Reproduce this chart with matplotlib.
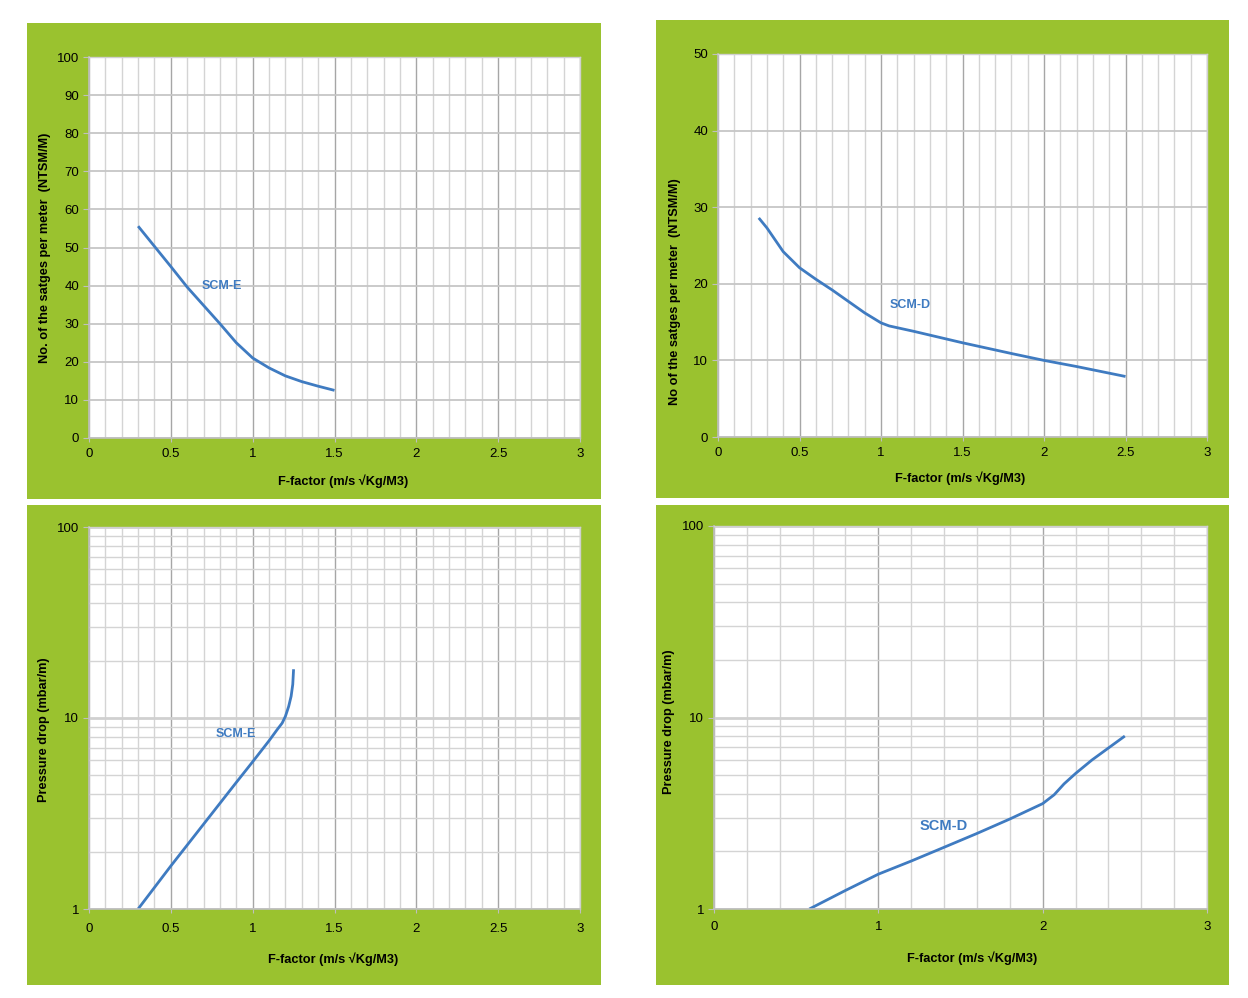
import matplotlib
matplotlib.use("Agg")
import matplotlib.pyplot as plt
from matplotlib.patches import Rectangle
from matplotlib.ticker import MultipleLocator, FixedLocator, FixedFormatter, NullFormatter

plt.rcParams['font.family'] = ['Liberation Sans', 'DejaVu Sans']

# ---------------- data ----------------
scme_stages_x = [0.3, 0.4, 0.5, 0.6, 0.7, 0.8, 0.9, 1.0, 1.1, 1.2, 1.3, 1.4, 1.5]
scme_stages_y = [55.6, 50.3, 45.0, 39.6, 34.8, 30.0, 25.0, 21.0, 18.4, 16.3, 14.8, 13.6, 12.5]

scmd_stages_x = [0.25, 0.3, 0.4, 0.5, 0.6, 0.7, 0.8, 0.9, 1.0, 1.05, 1.2, 1.5, 1.8, 2.0, 2.2, 2.5]
scmd_stages_y = [28.6, 27.3, 24.2, 22.1, 20.6, 19.2, 17.7, 16.2, 14.9, 14.5, 13.8, 12.3, 10.9, 10.0, 9.2, 7.9]

scme_dp_x = [0.3, 0.5, 0.7, 0.9, 1.0, 1.1, 1.15, 1.18, 1.2, 1.22, 1.235, 1.245, 1.25]
scme_dp_y = [1.0, 1.68, 2.78, 4.6, 5.9, 7.6, 8.7, 9.4, 10.2, 11.5, 13.0, 15.0, 18.0]

scmd_dp_x = [0.58, 0.8, 1.0, 1.2, 1.4, 1.6, 1.8, 2.0, 2.07, 2.13, 2.2, 2.3, 2.5]
scmd_dp_y = [1.0, 1.25, 1.52, 1.78, 2.1, 2.48, 2.95, 3.55, 3.95, 4.5, 5.1, 6.0, 8.0]

xlabel_text = "F-factor (m/s \u221aKg/M3)"
ylabel_tl = "No. of the satges per meter  (NTSM/M)"
ylabel_tr = "No of the satges per meter  (NTSM/M)"
ylabel_dp = "Pressure drop (mbar/m)"

# ---------------- style ----------------
GREEN = "#9AC22F"
BLUE = "#3F7BC1"
MINOR_GRID = "#D4D4D4"
MAJOR_GRID = "#A6A6A6"
HGRID = "#C6C6C6"
TICK_FS = 9.5
LABEL_FS = 9.2

W, H = 1248, 998
fig = plt.figure(figsize=(W / 100, H / 100), dpi=100)
fig.patch.set_facecolor("white")


def frac_rect(x0, y0, x1, y1):
    return [x0 / W, 1 - y1 / H, (x1 - x0) / W, (y1 - y0) / H]


def green_panel(x0, y0, x1, y1):
    l, b, w, h = frac_rect(x0, y0, x1, y1)
    fig.patches.append(Rectangle((l, b), w, h, transform=fig.transFigure,
                                 facecolor=GREEN, edgecolor="none", zorder=-10))


green_panel(27, 23, 601, 499)
green_panel(656, 20, 1229, 498)
green_panel(27, 505, 601, 985)
green_panel(656, 505, 1229, 985)


def setup_axes(rect, xmaj_step, xmin_step, log=False, ymax=100, ystep=10):
    ax = fig.add_axes(frac_rect(*rect))
    ax.set_zorder(1)
    ax.set_facecolor("white")
    ax.set_xlim(0, 3)
    ax.xaxis.set_minor_locator(MultipleLocator(xmin_step))
    xt = [i * xmaj_step for i in range(int(round(3 / xmaj_step)) + 1)]
    ax.xaxis.set_major_locator(FixedLocator(xt))
    ax.xaxis.set_major_formatter(FixedFormatter([("%g" % v) for v in xt]))
    ax.grid(which="minor", axis="x", color=MINOR_GRID, linewidth=1.0)
    ax.grid(which="major", axis="x", color=MAJOR_GRID, linewidth=1.0)
    ax.tick_params(axis="x", which="major", length=3, color="#BFBFBF", labelsize=TICK_FS, pad=4)
    ax.tick_params(axis="x", which="minor", length=0)
    if log:
        ax.set_yscale("log")
        ax.set_ylim(1, 100)
        ax.yaxis.set_major_locator(FixedLocator([1, 10, 100]))
        ax.yaxis.set_major_formatter(FixedFormatter(["1", "10", "100"]))
        ax.yaxis.set_minor_locator(FixedLocator([k * d for d in (1, 10) for k in range(2, 10)]))
        ax.yaxis.set_minor_formatter(NullFormatter())
        ax.grid(which="minor", axis="y", color=MINOR_GRID, linewidth=1.0)
        ax.grid(which="major", axis="y", color="#D0D0D0", linewidth=2.0)
        ax.tick_params(axis="y", which="minor", length=0)
    else:
        ax.set_ylim(0, ymax)
        ax.yaxis.set_major_locator(MultipleLocator(ystep))
        ax.grid(which="major", axis="y", color=HGRID, linewidth=1.3)
    ax.tick_params(axis="y", which="major", length=4, color="#BFBFBF", labelsize=TICK_FS, pad=3)
    ax.set_axisbelow(True)
    for s in ("top", "right"):
        ax.spines[s].set_color("#D0D0D0")
        ax.spines[s].set_linewidth(1.0)
    for s in ("left", "bottom"):
        ax.spines[s].set_color("#BFBFBF")
        ax.spines[s].set_linewidth(1.2)
    return ax


# Top-left
ax1 = setup_axes((89, 57, 580, 438), 0.5, 0.1)
ax1.plot(scme_stages_x, scme_stages_y, color=BLUE, lw=2.0, solid_capstyle="butt")
ax1.text(0.81, 39.9, "SCM-E", color=BLUE, fontsize=9, fontweight="bold", ha="center", va="center")
ax1.set_xlabel(xlabel_text, fontsize=LABEL_FS, fontweight="bold")
ax1.xaxis.set_label_coords(0.517, -0.0945)
ax1.set_ylabel(ylabel_tl, fontsize=LABEL_FS, fontweight="bold")
ax1.yaxis.set_label_coords(-0.077, 0.50)

# Top-right
ax2 = setup_axes((718, 54, 1207, 437), 0.5, 0.1, ymax=50, ystep=10)
ax2.plot(scmd_stages_x, scmd_stages_y, color=BLUE, lw=2.0, solid_capstyle="butt")
ax2.text(1.18, 17.2, "SCM-D", color=BLUE, fontsize=9, fontweight="bold", ha="center", va="center")
ax2.set_xlabel(xlabel_text, fontsize=LABEL_FS, fontweight="bold")
ax2.xaxis.set_label_coords(0.495, -0.091)
ax2.set_ylabel(ylabel_tr, fontsize=LABEL_FS, fontweight="bold")
ax2.yaxis.set_label_coords(-0.0757, 0.38)

# Bottom-left
ax3 = setup_axes((89, 527, 580, 909), 0.5, 0.1, log=True)
ax3.plot(scme_dp_x, scme_dp_y, color=BLUE, lw=2.0, solid_capstyle="butt")
ax3.text(0.90, 8.2, "SCM-E", color=BLUE, fontsize=9, fontweight="bold", ha="center", va="center")
ax3.set_xlabel(xlabel_text, fontsize=LABEL_FS, fontweight="bold")
ax3.xaxis.set_label_coords(0.497, -0.1126)
ax3.set_ylabel(ylabel_dp, fontsize=LABEL_FS, fontweight="bold")
ax3.yaxis.set_label_coords(-0.079, 0.47)
ax3.tick_params(axis="x", pad=7)

# Bottom-right
ax4 = setup_axes((714, 526, 1207, 909), 1.0, 0.2, log=True)
ax4.plot(scmd_dp_x, scmd_dp_y, color=BLUE, lw=2.0, solid_capstyle="butt")
ax4.text(1.40, 2.72, "SCM-D", color=BLUE, fontsize=10.5, fontweight="bold", ha="center", va="center")
ax4.set_xlabel(xlabel_text, fontsize=LABEL_FS, fontweight="bold")
ax4.xaxis.set_label_coords(0.523, -0.1097)
ax4.set_ylabel(ylabel_dp, fontsize=LABEL_FS, fontweight="bold")
ax4.yaxis.set_label_coords(-0.079, 0.49)
ax4.tick_params(axis="x", pad=6)

fig.savefig("out.png", dpi=100, facecolor="white")
